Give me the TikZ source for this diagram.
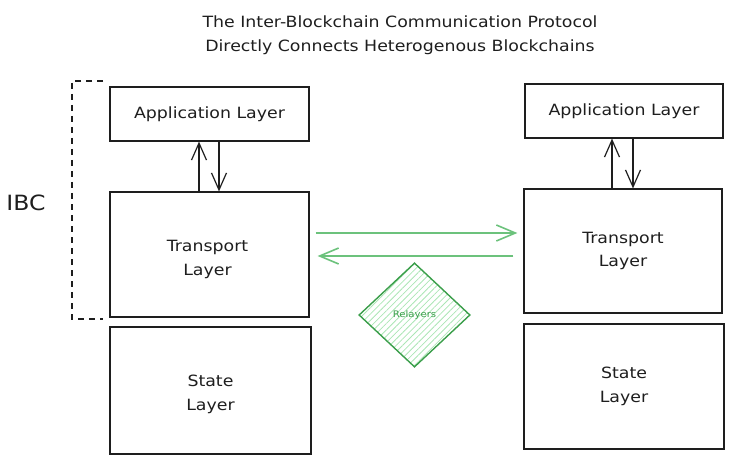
\documentclass[tikz,border=0pt]{standalone}
\usepackage{fontspec}
\setmainfont{DejaVu Sans}[FakeStretch=1.12]
\usetikzlibrary{arrows.meta,patterns.meta,shapes.geometric}
\definecolor{ink}{HTML}{1E1E1E}
\definecolor{grn}{HTML}{3A9E4A}
\definecolor{grnarrow}{HTML}{6CC27C}
\definecolor{hatch}{HTML}{ABE6B5}
\begin{document}
\begin{tikzpicture}[x=1pt,y=-1pt,
  layer/.style={draw=ink, line width=1.2pt, inner sep=0pt, align=center,
    font=\fontsize{15.5}{23.5}\selectfont, text=ink},
  lbl/.style={align=center, font=\fontsize{15.5}{23.5}\selectfont, text=ink},
  updown/.style={draw=ink, line width=1.2pt,
    -{Straight Barb[length=17pt,width=15pt,line width=1.2pt]}},
  relay/.style={draw=grnarrow, line width=1.6pt,
    -{Straight Barb[length=19pt,width=16pt,line width=1.6pt]}},
  relaybox/.style={diamond, draw=grn, line width=1.4pt, inner sep=0pt,
    minimum width=111pt, minimum height=104pt,
    pattern={Lines[angle=45,distance=4.5pt,line width=0.8pt]}, pattern color=hatch,
    font=\fontsize{9}{11}\selectfont, text=grn},
  bracket/.style={draw=ink, line width=1.2pt, dash pattern=on 6pt off 5pt},
]
\useasboundingbox (0,0) rectangle (750,468);

% title
\node[align=center, text=ink, font=\fontsize{15.5}{23.5}\selectfont] (title) at (400,35)
  {The Inter-Blockchain Communication Protocol\\Directly Connects Heterogenous Blockchains};

% left stack
\node[layer, minimum width=199pt, minimum height=54pt] (la) at (209.5,114) {Application Layer};
\node[layer, minimum width=199pt, minimum height=125pt,
  label={[lbl, yshift=-5pt, xshift=-2pt]center:{Transport\\Layer}}] (lt) at (209.5,254.5) {};
\node[layer, minimum width=201pt, minimum height=127pt,
  label={[lbl, yshift=-4pt]center:{State\\Layer}}] (ls) at (210.5,390.5) {};

% right stack
\node[layer, minimum width=198pt, minimum height=54pt] (ra) at (624,111) {Application Layer};
\node[layer, minimum width=198pt, minimum height=124pt] (rt) at (623,251) {Transport\\Layer};
\node[layer, minimum width=200pt, minimum height=125pt] (rs) at (624,386.5) {State\\Layer};

% IBC bracket
\coordinate (bt) at (103,81);
\coordinate (bb) at (103,319);
\draw[bracket] (bt) -- (72,81) -- (72,319) -- (bb);
\node[text=ink, font=\fontsize{21}{25}\selectfont] (ibc) at (26,203) {IBC};

% vertical arrows
\draw[updown] ([xshift=-10.5pt]lt.north) -- ([xshift=-10.5pt]lt.north |- la.south);
\draw[updown] ([xshift=9.5pt]la.south) -- ([xshift=9.5pt]la.south |- lt.north);
\draw[updown] ([xshift=-12pt]ra.south |- rt.north) -- ([xshift=-12pt]ra.south);
\draw[updown] ([xshift=9pt]ra.south) -- ([xshift=9pt]ra.south |- rt.north);

% relayer arrows
\draw[relay, shorten <=6pt, shorten >=6pt] ([yshift=21.5pt]lt.east) -- ([yshift=21.5pt]lt.east -| rt.west);
\draw[relay, shorten <=10pt, shorten >=8pt] ([yshift=-5pt]rt.west) -- ([yshift=-5pt]rt.west -| lt.east);

% relayers
\node[relaybox] (rel) at (414.5,315) {Relayers};
\end{tikzpicture}
\end{document}
